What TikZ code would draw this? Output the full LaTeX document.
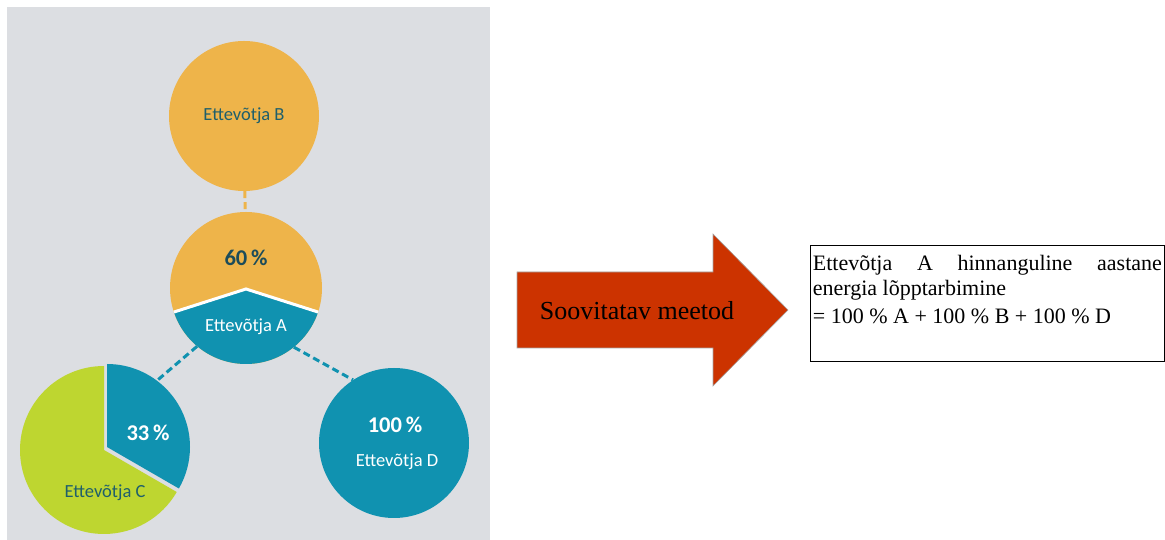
\documentclass[tikz,border=0pt]{standalone}
\usepackage{fontspec}
\setmainfont{Liberation Serif}
\newfontfamily\calibri{Carlito}
\usepackage{xcolor}
\usepackage{tikz}
\definecolor{panelgray}{RGB}{220,222,226}
\definecolor{firmorange}{RGB}{238,180,74}
\definecolor{firmteal}{RGB}{16,146,176}
\definecolor{firmgreen}{RGB}{190,214,48}
\definecolor{firmtext}{RGB}{31,95,107}
\definecolor{pctdark}{RGB}{28,76,90}
\definecolor{arrowred}{RGB}{204,51,0}
\setlength{\parindent}{0pt}

\begin{document}
\begin{tikzpicture}[x=1pt,y=1pt,
  firmlabel/.style={font=\calibri\fontsize{18.5}{20}\selectfont},
  pctlabel/.style={font=\calibri\bfseries\fontsize{22.5}{24}\selectfont},
  dashlink/.style={line width=3pt,dash pattern=on 7pt off 4pt}]
\useasboundingbox (0,0) rectangle (1165,540);
\fill[panelgray] (7,0) rectangle (490,533);
% Ettevotja B
\node[shape=circle,fill=firmorange,minimum size=150pt,inner sep=0,firmlabel,text=firmtext] (B) at (244,424) {Ettevõtja B};
% Ettevotja A, split 60/40
\node[shape=circle,fill=firmorange,minimum size=152pt,inner sep=0] (A) at (246,252) {};
\begin{scope}
\clip (A.center) circle (76pt);
\fill[firmteal] (160,223.5) -- (246,251) -- (332,223.5) -- (332,170) -- (160,170) -- cycle;
\draw[white,line width=3pt] (160,223.5) -- (246,251) -- (332,223.5);
\end{scope}
\node[pctlabel,text=pctdark] (Ap) at (246,282) {60\,\%};
\node[firmlabel,text=white] (Al) at (246,213) {Ettevõtja A};
% Ettevotja C, 33 % slice pulled out
\node[shape=circle,minimum size=166pt,inner sep=0] (C) at (107,93) {};
\fill[firmgreen] (104,90) -- ++(90:84pt) arc[start angle=90,end angle=330,radius=84pt] -- cycle;
\fill[firmteal] (C.center) -- ++(90:83pt) arc[start angle=90,end angle=-30,radius=83pt] -- cycle;
\node[pctlabel,text=white] (Cp) at (148,107) {33\,\%};
\node[firmlabel,text=firmtext] (Cl) at (105,47) {Ettevõtja C};
% Ettevotja D
\node[shape=circle,fill=firmteal,minimum size=150pt,inner sep=0] (D) at (394,97) {};
\node[pctlabel,text=white] (Dp) at (395,115) {100\,\%};
\node[firmlabel,text=white] (Dl) at (397,78) {Ettevõtja D};
\path[dashlink,draw=firmorange] (B) edge (A);
\path[dashlink,draw=firmteal] (A.-130) edge (C.53);
\path[dashlink,draw=firmteal] (A.-51) edge (D.123);
% arrow
\filldraw[fill=arrowred,draw=gray!70,line width=0.6pt] (517,192) -- (713,192) -- (713,154) -- (788,230) -- (713,306) -- (713,268) -- (517,268) -- cycle;
\node[font=\fontsize{26}{30}\selectfont] (method) at (637,229) {Soovitatav meetod};
% result box
\node[draw,line width=0.8pt,anchor=north west,text width=349pt,inner xsep=2.5pt,inner ysep=0pt,align=justify,font=\fontsize{22}{25}\selectfont] (formula) at (810,295)
  {\rule{0pt}{25pt}\makebox[\hsize][s]{Ettevõtja A hinnanguline aastane}\par
   energia lõpptarbimine\par\vspace{3pt}
   = 100 \% A + 100 \% B + 100 \% D\par
   \rule[-13pt]{0pt}{13pt}};
\end{tikzpicture}
\end{document}
